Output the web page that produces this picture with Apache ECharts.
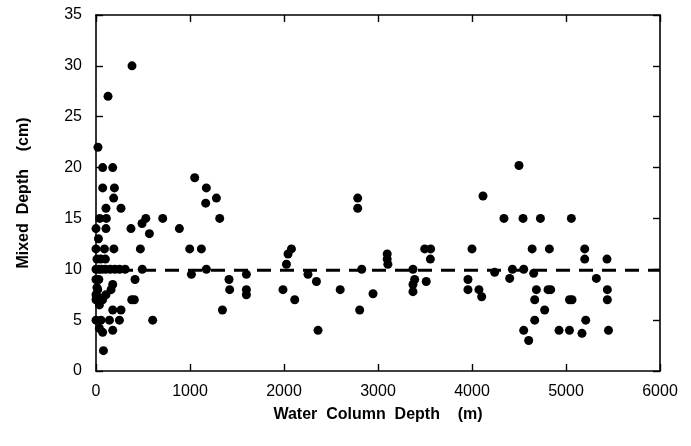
<!DOCTYPE html>
<html>
<head>
<meta charset="utf-8">
<script src="https://cdn.jsdelivr.net/npm/echarts@6/dist/echarts.min.js"></script>
<style>html,body{margin:0;padding:0;background:#fff;}#c{width:691px;height:446px;}</style>
</head>
<body>
<div id="c"></div>
<script>
// Water column depth (m)
var depthM = [
  383,128,21,71,178,71,196,188,106,266,40,110,490,530,710,0,106,372,887,568,26,
  0,90,190,472,10,50,100,0,30,60,100,150,200,250,310,492,0,30,415,178,18,160,10,
  0,106,0,70,40,380,408,36,178,266,249,0,53,143,603,36,71,178,79,
  1050,1174,1167,1281,1316,997,1121,1015,1174,1415,1422,1600,1600,1600,1345,2079,2043,2026,1989,2114,
  2255,2345,2362,2598,2784,2784,2827,2805,2947,3098,3098,3105,3372,3390,3372,3372,3497,3560,3557,3513,4000,3957,3957,4074,4103,
  4500,4117,4340,4543,4728,5057,4640,4823,5199,5199,5436,4241,4401,4430,4550,4656,5323,4685,4809,4837,4667,5037,5064,5440,5440,4773,4667,5210,4550,4603,4926,5037,5170,5452
];
// Mixed depth (cm)
var mixedCm = [
  30,27,22,20,20,18,18,17,16,16,15,15,14.5,15,15,14,14,14,14,13.5,13,
  12,12,12,12,11,11,11,10,10,10,10,10,10,10,10,10,9,9,9,8.5,8,8,8.2,
  7.5,7.5,7,7,7.2,7,7,6.5,6,6,5,5,5,5,5,4.2,3.8,4,2,
  19,18,16.5,17,15,12,12,9.5,10,9,8,9.5,8,7.5,6,12,11.5,10.5,8,7,
  9.5,8.8,4,8,17,16,10,6,7.6,11.5,11,10.5,10,9,8.5,7.8,12,12,11,8.8,12,9,8,8,7.3,
  20.2,17.2,15,15,15,15,12,12,12,11,11,9.7,9.1,10,10,9.6,9.1,8,8,8,7,7,7,8,7,6,5,5,4,3,4,4,3.7,4
];
// Mean line
var meanX = [0, 6000];
var meanY = [9.9, 9.9];
var xTicks = [0, 1000, 2000, 3000, 4000, 5000, 6000];
var yTicks = [0, 5, 10, 15, 20, 25, 30, 35];

var pts = depthM.map(function (x, i) { return [x, mixedCm[i]]; });
var meanPts = meanX.map(function (x, i) { return [x, meanY[i]]; });

var font = 'Liberation Sans, Arial, Helvetica, sans-serif';
var axisLine = { show: true, onZero: false, lineStyle: { color: '#000', width: 1.6 } };
var tick = { show: true, inside: true, length: 7, lineStyle: { color: '#000', width: 1.4 } };
var plain = function (v) { return String(v); };

var chart = echarts.init(document.getElementById('c'), null, { renderer: 'canvas' });
chart.setOption({
  animation: false,
  backgroundColor: '#fff',
  grid: { left: 96, right: 31, top: 15, bottom: 75, containLabel: false },
  xAxis: [{
    type: 'value', position: 'bottom', min: xTicks[0], max: xTicks[xTicks.length - 1], interval: 1000,
    axisLine: axisLine, axisTick: tick, splitLine: { show: false },
    axisLabel: { color: '#000', fontSize: 16, fontFamily: font, margin: 13, formatter: plain },
    name: 'Water  Column  Depth    (m)', nameLocation: 'middle', nameGap: 36,
    nameTextStyle: { color: '#000', fontSize: 16, fontWeight: 'bold', fontFamily: font }
  }, {
    type: 'value', position: 'top', min: 0, max: 6000, interval: 1000,
    axisLine: axisLine, axisTick: tick, splitLine: { show: false }, axisLabel: { show: false }
  }],
  yAxis: [{
    type: 'value', position: 'left', min: yTicks[0], max: yTicks[yTicks.length - 1], interval: 5,
    axisLine: axisLine, axisTick: tick, splitLine: { show: false },
    axisLabel: { color: '#000', fontSize: 16, fontFamily: font, margin: 14, formatter: plain },
    name: 'Mixed  Depth    (cm)', nameLocation: 'middle', nameGap: 64,
    nameTextStyle: { color: '#000', fontSize: 16, fontWeight: 'bold', fontFamily: font }
  }, {
    type: 'value', position: 'right', min: 0, max: 35, interval: 5,
    axisLine: axisLine, axisTick: tick, splitLine: { show: false }, axisLabel: { show: false }
  }],
  series: [{
    type: 'line', data: meanPts, symbol: 'none', silent: true,
    lineStyle: { color: '#000', width: 3, type: [14, 9] }, z: 1
  }, {
    type: 'scatter', data: pts, symbol: 'circle', symbolSize: 9,
    itemStyle: { color: '#000', opacity: 1 }, z: 2
  }]
});
</script>
</body>
</html>
